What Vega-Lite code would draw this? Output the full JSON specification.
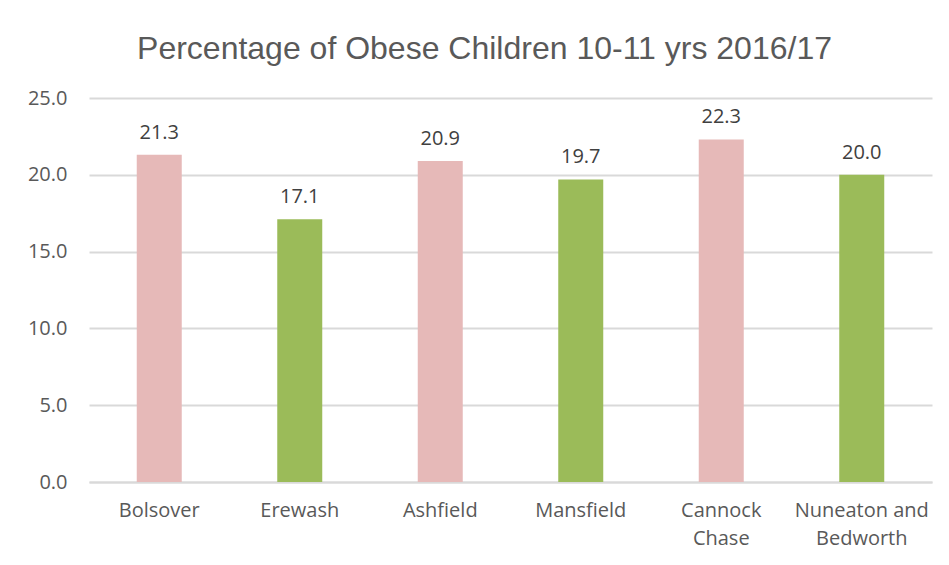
{
  "$schema": "https://vega.github.io/schema/vega-lite/v6.json",
  "autosize": "none",
  "width": 843,
  "height": 384,
  "padding": {"left": 89, "top": 98, "right": 17, "bottom": 83},
  "background": "white",
  "config": {"view": {"stroke": null}},
  "title": {
    "text": "Percentage of Obese Children 10-11 yrs 2016/17",
    "font": "Liberation Sans",
    "fontSize": 32,
    "fontWeight": "normal",
    "color": "#595959",
    "anchor": "middle",
    "dx": -26,
    "baseline": "alphabetic",
    "offset": -3
  },
  "data": {
    "values": [
      {"area": "Bolsover", "value": 21.3, "type": "A"},
      {"area": "Erewash", "value": 17.1, "type": "B"},
      {"area": "Ashfield", "value": 20.9, "type": "A"},
      {"area": "Mansfield", "value": 19.7, "type": "B"},
      {"area": "Cannock Chase", "value": 22.3, "type": "A"},
      {"area": "Nuneaton and Bedworth", "value": 20.0, "type": "B"}
    ]
  },
  "encoding": {
    "x": {
      "field": "area",
      "type": "nominal",
      "sort": null,
      "title": null,
      "scale": {"paddingInner": 0, "paddingOuter": 0},
      "axis": {
        "labelAngle": 0,
        "labelFont": "Open Sans",
        "labelFontSize": 20,
        "labelColor": "#595959",
        "labelPadding": 18,
        "labelLineHeight": 28,
        "labelBaseline": "top",
        "ticks": false,
        "domainColor": "#D9D9D9",
        "domainWidth": 2,
        "labelExpr": "datum.label == 'Cannock Chase' ? ['Cannock', 'Chase'] : datum.label == 'Nuneaton and Bedworth' ? ['Nuneaton and', 'Bedworth'] : datum.label"
      }
    },
    "y": {
      "field": "value",
      "type": "quantitative",
      "title": null,
      "scale": {"domain": [0, 25], "nice": false},
      "axis": {
        "values": [0, 5, 10, 15, 20, 25],
        "format": ".1f",
        "labelFont": "Open Sans",
        "labelFontSize": 20,
        "labelColor": "#595959",
        "labelPadding": 22,
        "ticks": false,
        "domain": false,
        "gridColor": "#D9D9D9",
        "gridWidth": 2
      }
    }
  },
  "layer": [
    {
      "mark": {"type": "bar", "width": 45},
      "encoding": {
        "color": {
          "field": "type",
          "type": "nominal",
          "scale": {"domain": ["A", "B"], "range": ["#E6B9B8", "#9BBB59"]},
          "legend": null
        }
      }
    },
    {
      "mark": {"type": "text", "dy": -16, "baseline": "alphabetic", "font": "Open Sans", "fontSize": 20, "color": "#404040"},
      "encoding": {
        "text": {"field": "value", "type": "quantitative", "format": ".1f"}
      }
    }
  ]
}
